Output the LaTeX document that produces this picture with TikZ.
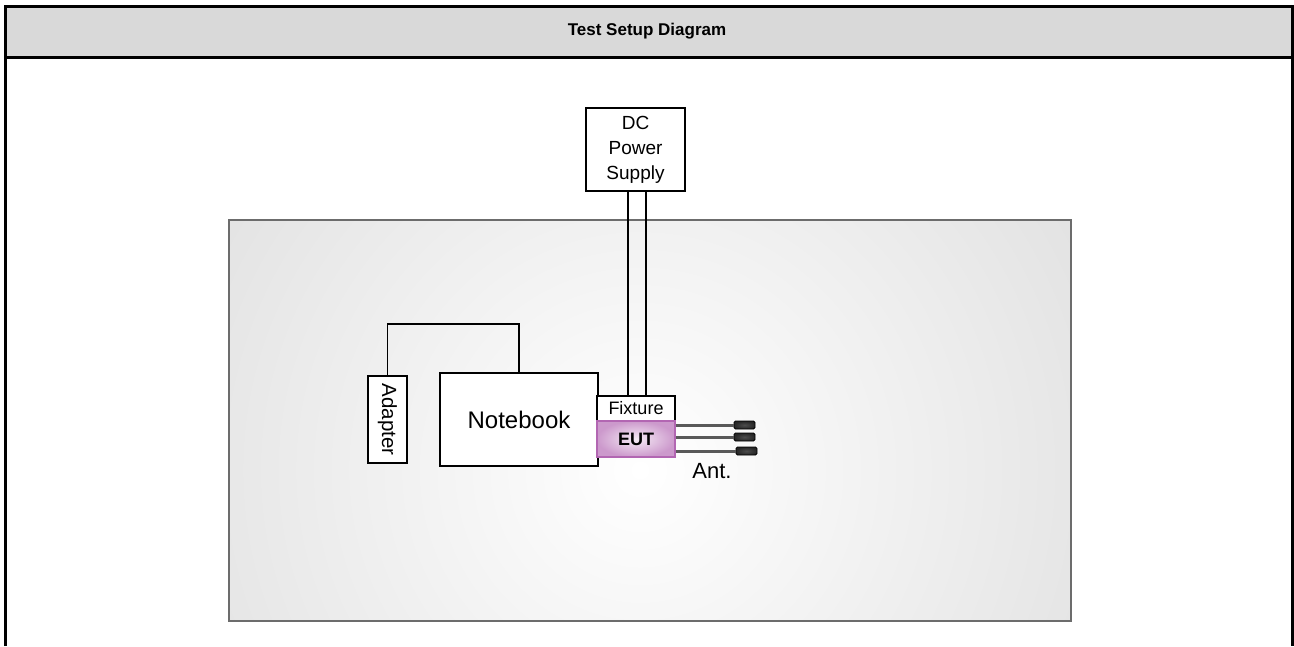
\documentclass[tikz,border=0pt]{standalone}
\usepackage{fontspec}
\setmainfont{Liberation Sans}
\begin{document}
\begin{tikzpicture}[x=1pt,y=-1pt,
  box/.style={draw=black, fill=white, line width=1.4pt, inner sep=0pt, align=center},
  frameline/.style={line width=3pt, black},
  wire/.style={line width=1.4pt, black},
  antline/.style={line width=3pt, gray!70!black},
  antcap/.style={draw=black, line width=0.8pt, rounded corners=1.5pt, inner sep=0pt,
     minimum width=21pt, minimum height=8pt, inner color=gray!60!black, outer color=black!85},
]
\useasboundingbox (0,0) rectangle (1294,646);
% title bar and frame
\fill[gray!30] (5.5,6) rectangle (1292,57);
\node[font=\fontsize{17}{20}\selectfont\bfseries] (title) at (647,31) {Test Setup Diagram};
\draw[frameline] (5.5,646) -- (5.5,6) -- (1292,6) -- (1292,646);
\draw[frameline] (5.5,57) -- (1292,57);
% shaded table
\begin{scope}
  \clip (229,220) rectangle (1071,621);
  \shade[inner color=white, outer color=gray!40] (640,470) circle (900);
\end{scope}
\draw[line width=1.6pt, gray!85!black] (229,220) rectangle (1071,621);
% nodes
\node[box, minimum width=99pt, minimum height=83pt, font=\fontsize{19}{25}\selectfont] (dc) at (635.5,149.5)
  {DC\\Power\\Supply};
\node[box, minimum width=158pt, minimum height=93pt, font=\fontsize{24}{26}\selectfont] (nb) at (519,419.5)
  {Notebook};
\node[box, minimum width=39pt, minimum height=87pt] (ad) at (387.5,419.5) {};
\node[rotate=-90, font=\fontsize{20.5}{22}\selectfont] (adtext) at (ad.center) {Adapter};
\node[box, minimum width=78pt, minimum height=25pt, font=\fontsize{18}{20}\selectfont] (fix) at (636,408.5)
  {Fixture};
\node[draw=violet!60!white, line width=1.4pt, inner sep=0pt, minimum width=78pt, minimum height=36pt,
  inner color=violet!8, outer color=violet!40, font=\fontsize{18}{20}\selectfont\bfseries] (eut) at (636,439)
  {EUT};
\node[antcap] (ant1) at (744.5,425) {};
\node[antcap] (ant2) at (744.5,437) {};
\node[antcap] (ant3) at (746.5,451) {};
\node[font=\fontsize{22}{24}\selectfont] (antlabel) at (712,471) {Ant.};
% connectors
\coordinate (px1) at (628,0);
\coordinate (px2) at (646,0);
\draw[wire] (dc.south -| px1) -- (fix.north -| px1);
\draw[wire] (dc.south -| px2) -- (fix.north -| px2);
\coordinate (bend) at (450,324);
\draw[wire] (ad.north) |- (bend) -| (nb.north);
\draw[antline] (ant1.west -| eut.east) -- (ant1.west);
\draw[antline] (ant2.west -| eut.east) -- (ant2.west);
\draw[antline] (ant3.west -| eut.east) -- (ant3.west);
\end{tikzpicture}
\end{document}
